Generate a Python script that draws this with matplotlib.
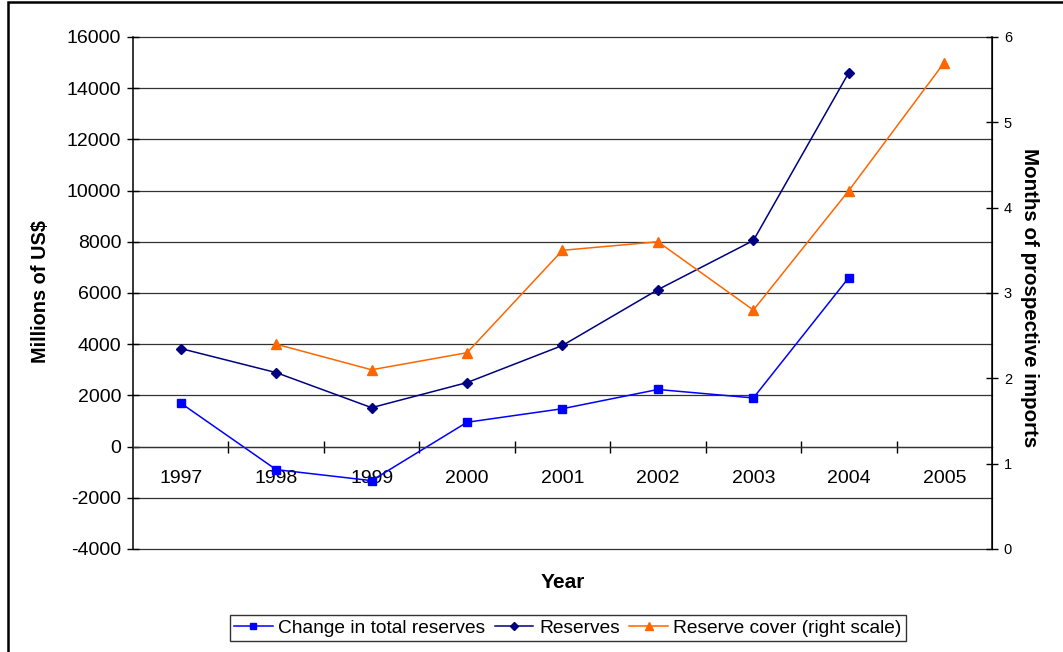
import matplotlib.pyplot as plt
from matplotlib.patches import Rectangle

plt.rcParams['font.family'] = ['Liberation Sans', 'DejaVu Sans']
plt.rcParams['axes.unicode_minus'] = False

years = ['1997', '1998', '1999', '2000', '2001', '2002', '2003', '2004', '2005']
change_reserves = [1700, -900, -1330, 950, 1480, 2230, 1900, 6600]
reserves = [3830, 2890, 1520, 2500, 3950, 6130, 8050, 14610]
cover_years = ['1998', '1999', '2000', '2001', '2002', '2003', '2004', '2005']
reserve_cover = [2.4, 2.1, 2.3, 3.5, 3.6, 2.8, 4.2, 5.7]

W, H = 1063, 652
fig = plt.figure(figsize=(W / 100, H / 100), dpi=100)
ax = fig.add_axes([0.1251, 0.158, 0.8081, 0.7853])
ax2 = ax.twinx()

xpos = {y: i for i, y in enumerate(years)}
x_change = [xpos[y] for y in years[:len(change_reserves)]]
x_res = [xpos[y] for y in years[:len(reserves)]]
x_cover = [xpos[y] for y in cover_years]

l1, = ax.plot(x_change, change_reserves, color='#0000FF', lw=1.1, marker='s',
              markersize=6, label='Change in total reserves')
l2, = ax.plot(x_res, reserves, color='#000080', lw=1.1, marker='D',
              markersize=5, label='Reserves')
l3, = ax2.plot(x_cover, reserve_cover, color='#FF6600', lw=1.1, marker='^',
               markersize=7, label='Reserve cover (right scale)')

ax.set_xlim(-0.5, len(years) - 0.5)
ax.set_ylim(-4000, 16000)
ax.set_yticks(range(-4000, 16001, 2000))
ax2.set_ylim(0, 6)
ax2.set_yticks(range(0, 7))

# gridlines on the left scale
for v in range(-4000, 16001, 2000):
    ax.axhline(v, color='#333333', lw=0.9, zorder=0, clip_on=False)

# category axis sits on the zero line
ax.spines['bottom'].set_position(('data', 0))
ax.spines['bottom'].set_linewidth(0.9)
ax.spines['bottom'].set_color('#333333')
for a in (ax, ax2):
    a.spines['top'].set_visible(False)
ax2.spines['bottom'].set_visible(False)
ax.spines['left'].set_linewidth(1.1)
ax2.spines['right'].set_linewidth(1.1)
ax2.spines['left'].set_visible(False)

ax.set_xticks(range(len(years)))
ax.set_xticklabels(years)
ax.set_xticks([i + 0.5 for i in range(len(years) - 1)], minor=True)
ax.tick_params(axis='x', which='major', length=0, pad=17, labelsize=14)
ax.tick_params(axis='x', which='minor', length=9, direction='inout', width=1)
ax.tick_params(axis='y', length=9, direction='inout', width=1, labelsize=14, pad=4)
ax2.tick_params(axis='y', length=9, direction='inout', width=1, labelsize=10.5, pad=4)

# axis titles
fig.text(41 / W, 1 - 292 / H, 'Millions of US$', fontsize=14.3, fontweight='bold',
         rotation=90, ha='center', va='center')
fig.text(1029 / W, 1 - 298 / H, 'Months of prospective imports', fontsize=14.8,
         fontweight='bold', rotation=-90, ha='center', va='center')
fig.text(563 / W, 1 - 583 / H, 'Year', fontsize=15, fontweight='bold',
         ha='center', va='center')

leg = fig.legend(handles=[l1, l2, l3], loc='center', ncol=3,
                 bbox_to_anchor=(568 / W, 1 - 628 / H), fontsize=13.8,
                 frameon=True, fancybox=False, edgecolor='black',
                 handlelength=2.0, handletextpad=0.3, columnspacing=0.5,
                 borderpad=0.2, markerscale=0.8)
leg.get_frame().set_linewidth(1.0)

# frame around the whole chart
fig.patches.append(Rectangle((7.5 / W, -0.02), 1.05, 1.02 - 2.5 / H,
                             transform=fig.transFigure, fill=False,
                             edgecolor='black', lw=1.8))

fig.savefig('out.png', dpi=100)
